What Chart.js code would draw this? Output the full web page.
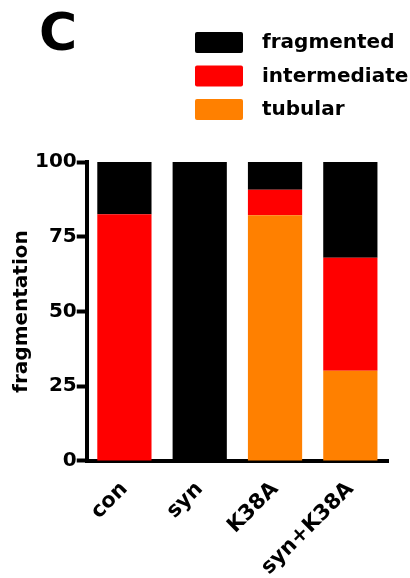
<!DOCTYPE html>
<html>
<head>
<meta charset="utf-8">
<script src="https://cdn.jsdelivr.net/npm/chart.js@4.4.0/dist/chart.umd.min.js"></script>
<style>
    html, body { margin: 0; padding: 0; background: #fff; }
    #wrap { width: 410px; height: 578px; position: relative; }
</style>
</head>
<body>
<div id="wrap"><canvas id="chart"></canvas></div>
<script>
// data (percent of cells)
const categories = ['con', 'syn', 'K38A', 'syn+K38A'];
const tubular = [0, 0, 82.2, 30.2];
const intermediate = [82.5, 0, 8.5, 37.8];
const fragmented = [17.5, 100, 9.3, 32];
const yTicks = [0, 25, 50, 75, 100];

const FONT = '"DejaVu Sans", sans-serif';

// panel letter + stacked legend box drawn in the top-right
const panelAndLegend = {
    id: 'panelAndLegend',
    afterDraw(chart) {
        const ctx = chart.ctx;
        ctx.save();
        ctx.fillStyle = '#000';
        ctx.font = 'bold 52px ' + FONT;
        ctx.textAlign = 'center';
        ctx.textBaseline = 'middle';
        ctx.fillText('C', 58, 36);

        // legend top to bottom = reverse of stacking order
        const sets = chart.data.datasets.slice().reverse();
        ctx.font = 'bold 20px ' + FONT;
        ctx.textAlign = 'left';
        sets.forEach((ds, i) => {
            const y = 32 + i * 33.5;
            ctx.fillStyle = ds.backgroundColor;
            ctx.beginPath();
            ctx.roundRect(195, y, 48, 21, 2);
            ctx.fill();
            ctx.fillStyle = '#000';
            ctx.fillText(ds.label, 262, y + 11);
        });
        ctx.restore();
    }
};

new Chart(document.getElementById('chart'), {
    type: 'bar',
    data: {
        labels: categories,
        datasets: [
            { label: 'tubular', data: tubular, backgroundColor: '#ff8000' },
            { label: 'intermediate', data: intermediate, backgroundColor: '#ff0000' },
            { label: 'fragmented', data: fragmented, backgroundColor: '#000000' }
        ]
    },
    options: {
        responsive: true,
        maintainAspectRatio: false,
        animation: false,
        layout: { padding: { top: 162, right: 22, bottom: -10, left: 2 } },
        datasets: {
            bar: { barPercentage: 0.72, categoryPercentage: 1.0 }
        },
        plugins: {
            legend: { display: false },
            tooltip: { enabled: false }
        },
        scales: {
            x: {
                stacked: true,
                z: 1,
                grid: { display: false },
                border: { display: true, color: '#000', width: 4 },
                ticks: {
                    color: '#000',
                    minRotation: 45,
                    maxRotation: 45,
                    padding: 8,
                    font: { family: FONT, size: 21, weight: 'bold' }
                }
            },
            y: {
                stacked: true,
                z: 1,
                min: 0,
                max: 100,
                afterBuildTicks: (axis) => { axis.ticks = yTicks.map(v => ({ value: v })); },
                grid: {
                    drawOnChartArea: false,
                    drawTicks: true,
                    tickLength: 10,
                    tickWidth: 4,
                    tickColor: '#000'
                },
                border: { display: true, color: '#000', width: 4 },
                ticks: {
                    color: '#000',
                    padding: 0,
                    font: { family: FONT, size: 20, weight: 'bold' }
                },
                title: {
                    display: true,
                    text: 'fragmentation',
                    color: '#000',
                    padding: { top: 10, bottom: 3 },
                    font: { family: FONT, size: 20, weight: 'bold', lineHeight: 1.0 }
                }
            }
        }
    },
    plugins: [panelAndLegend]
});
</script>
</body>
</html>
